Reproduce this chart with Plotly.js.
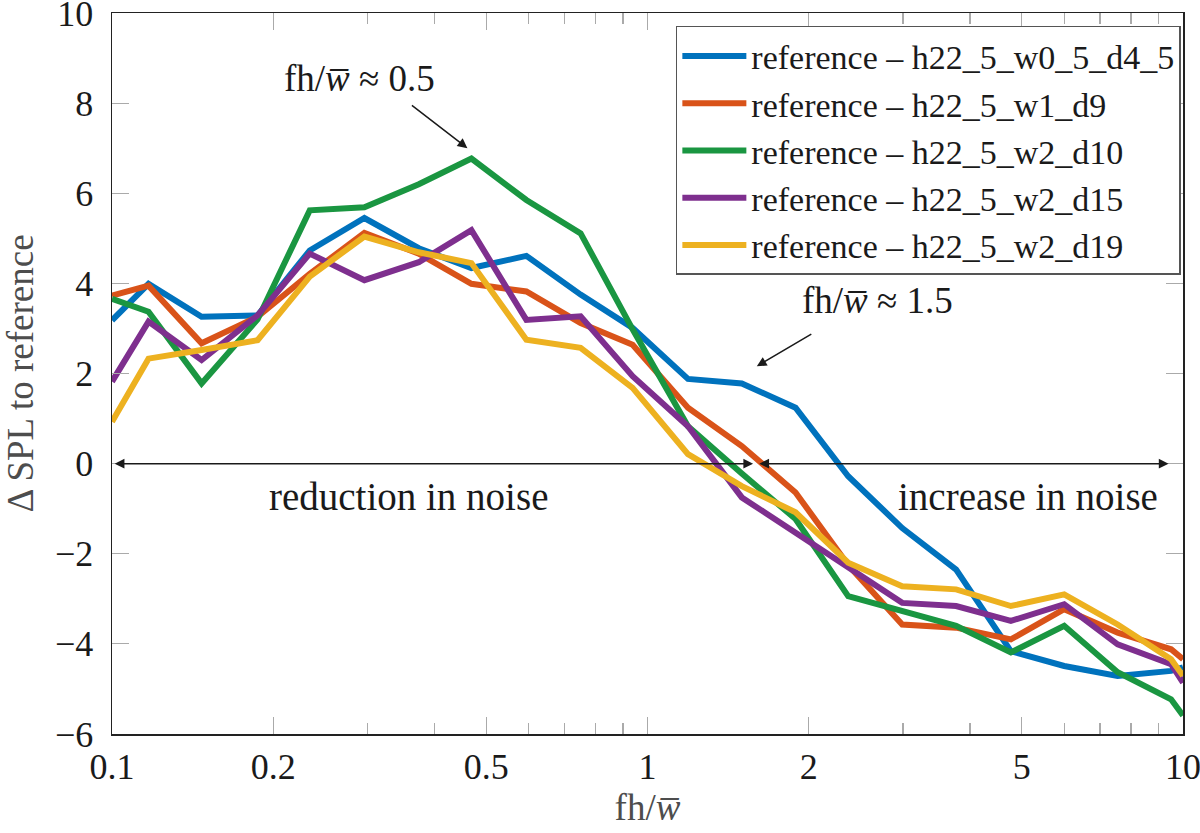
<!DOCTYPE html>
<html>
<head>
<meta charset="utf-8">
<script src="https://cdn.plot.ly/plotly-3.0.1.min.js"></script>
<style>
  html, body { margin: 0; padding: 0; background: #fff; }
  #chart { width: 1200px; height: 833px; }
</style>
</head>
<body>
<div id="chart"></div>
<script>
// fh/w values (third-octave steps)
const fhw = [0.1, 0.117, 0.147, 0.187, 0.234, 0.296, 0.374, 0.469, 0.594, 0.75, 0.938,
             1.19, 1.5, 1.89, 2.37, 2.99, 3.77, 4.77, 6.0, 7.55, 9.5, 10];

// delta SPL to reference, one array per configuration
const w05_d45 = [3.18, 3.99, 3.26, 3.29, 4.73, 5.45, 4.78, 4.34, 4.61, 3.75, 3.01,
                 1.88, 1.78, 1.24, -0.28, -1.43, -2.35, -4.16, -4.49, -4.71, -4.60, -4.52];
const w1_d9   = [3.73, 3.95, 2.67, 3.26, 4.21, 5.12, 4.66, 3.99, 3.82, 3.12, 2.64,
                 1.24, 0.39, -0.64, -2.25, -3.57, -3.64, -3.90, -3.23, -3.75, -4.12, -4.34];
const w2_d10  = [3.66, 3.37, 1.78, 3.20, 5.62, 5.69, 6.20, 6.77, 5.85, 5.11, 2.98,
                 0.83, -0.22, -1.23, -2.94, -3.27, -3.60, -4.19, -3.60, -4.63, -5.23, -5.59];
const w2_d15  = [1.82, 3.15, 2.30, 3.29, 4.66, 4.07, 4.47, 5.18, 3.19, 3.27, 1.94,
                 0.83, -0.75, -1.53, -2.30, -3.09, -3.16, -3.49, -3.12, -4.01, -4.45, -4.86];
const w2_d19  = [0.93, 2.33, 2.52, 2.74, 4.15, 5.04, 4.69, 4.45, 2.75, 2.57, 1.68,
                 0.21, -0.50, -1.08, -2.20, -2.72, -2.79, -3.16, -2.90, -3.57, -4.34, -4.71];

const names  = ['reference – h22_5_w0_5_d4_5', 'reference – h22_5_w1_d9', 'reference – h22_5_w2_d10',
                'reference – h22_5_w2_d15', 'reference – h22_5_w2_d19'];
const colors = ['#0072BD', '#D95319', '#1A9641', '#7E2F8E', '#EDB120'];
const series = [w05_d45, w1_d9, w2_d10, w2_d15, w2_d19];

const xTickVals  = [0.1, 0.2, 0.5, 1, 2, 5, 10];
const xTickText  = ['0.1', '0.2', '0.5', '1', '2', '5', '10'];
const xMinorVals = [0.3, 0.4, 0.6, 0.7, 0.8, 0.9, 3, 4, 6, 7, 8, 9];

const FONT = 'Liberation Serif, serif';
const WBAR = '<i>w\u0305</i>';

const traces = series.map((ys, i) => ({
    x: fhw, y: ys,
    type: 'scatter', mode: 'lines',
    name: names[i],
    line: { color: colors[i], width: 6, shape: 'linear' }
}));

// arrows / labels (x in log10 units since the axis is log)
const annotations = [
    // fh/w ~ 0.5
    { x: -0.537, y: 8.55, xref: 'x', yref: 'y', text: 'fh/' + WBAR + ' ≈ 0.5', showarrow: false,
      font: { family: FONT, size: 37, color: '#1a1a1a' } },
    { x: Math.log10(0.461), y: 7.0, xref: 'x', yref: 'y', text: '', showarrow: true,
      ax: -57, ay: -44, arrowhead: 2, arrowsize: 1.3, arrowwidth: 1.5, arrowcolor: '#1a1a1a', standoff: 0 },
    // fh/w ~ 1.5
    { x: 0.4288, y: 3.63, xref: 'x', yref: 'y', text: 'fh/' + WBAR + ' ≈ 1.5', showarrow: false,
      font: { family: FONT, size: 37, color: '#1a1a1a' } },
    { x: Math.log10(1.6), y: 2.16, xref: 'x', yref: 'y', text: '', showarrow: true,
      ax: 56, ay: -33, arrowhead: 2, arrowsize: 1.3, arrowwidth: 1.5, arrowcolor: '#1a1a1a', standoff: 0 },
    // reduction / increase double arrows on the zero line
    { x: -0.995, y: 0, ax: 0.200, ay: 0, xref: 'x', yref: 'y', axref: 'x', ayref: 'y', text: '',
      showarrow: true, arrowside: 'end+start', arrowhead: 2, arrowsize: 1.3, arrowwidth: 1.5,
      arrowcolor: '#1a1a1a', standoff: 0, startstandoff: 0 },
    { x: 0.973, y: 0, ax: 0.206, ay: 0, xref: 'x', yref: 'y', axref: 'x', ayref: 'y', text: '',
      showarrow: true, arrowside: 'end+start', arrowhead: 2, arrowsize: 1.3, arrowwidth: 1.5,
      arrowcolor: '#1a1a1a', standoff: 0, startstandoff: 0 },
    { x: -0.447, y: -0.72, xref: 'x', yref: 'y', text: 'reduction in noise', showarrow: false,
      font: { family: FONT, size: 39, color: '#1a1a1a' } },
    { x: 0.711, y: -0.72, xref: 'x', yref: 'y', text: 'increase in noise', showarrow: false,
      font: { family: FONT, size: 39, color: '#1a1a1a' } }
];

const layout = {
    width: 1200, height: 833,
    paper_bgcolor: '#fff', plot_bgcolor: '#fff',
    margin: { l: 112, r: 17, t: 13, b: 99 },
    font: { family: FONT, size: 36, color: '#1a1a1a' },
    showlegend: true,
    legend: {
        x: 0.998, xanchor: 'right', y: 0.982, yanchor: 'top',
        bgcolor: '#fff', bordercolor: '#555', borderwidth: 1.5,
        font: { family: FONT, size: 34, color: '#1a1a1a' },
        itemwidth: 64, tracegroupgap: 0
    },
    xaxis: {
        type: 'log', range: [-1, 1],
        tickmode: 'array', tickvals: xTickVals, ticktext: xTickText,
        ticks: 'inside', ticklen: 17, tickwidth: 1.2, tickcolor: '#aaa',
        minor: { tickmode: 'array', tickvals: xMinorVals, ticks: 'inside', ticklen: 11, tickwidth: 1.2, tickcolor: '#aaa' },
        showline: true, linecolor: '#222', linewidth: 1.5, mirror: 'ticks',
        showgrid: false, zeroline: false, automargin: false,
        ticklabeloverflow: 'allow',
        tickfont: { family: FONT, size: 36, color: '#1a1a1a' },
        title: { text: 'fh/' + WBAR, standoff: 0, font: { family: FONT, size: 37, color: '#4d4d4d' } }
    },
    yaxis: {
        range: [-6, 10], tickmode: 'linear', tick0: -6, dtick: 2,
        ticks: 'inside', ticklen: 17, tickwidth: 1.2, tickcolor: '#aaa',
        ticklabelstandoff: 10, ticklabeloverflow: 'allow',
        showline: true, linecolor: '#222', linewidth: 1.5, mirror: 'ticks',
        showgrid: false, zeroline: false, automargin: false,
        tickfont: { family: FONT, size: 36, color: '#1a1a1a' },
        title: { text: 'Δ SPL to reference', standoff: 18, font: { family: FONT, size: 37, color: '#4d4d4d' } }
    },
    annotations: annotations
};

Plotly.newPlot('chart', traces, layout, { displayModeBar: false, staticPlot: true });
</script>
</body>
</html>
